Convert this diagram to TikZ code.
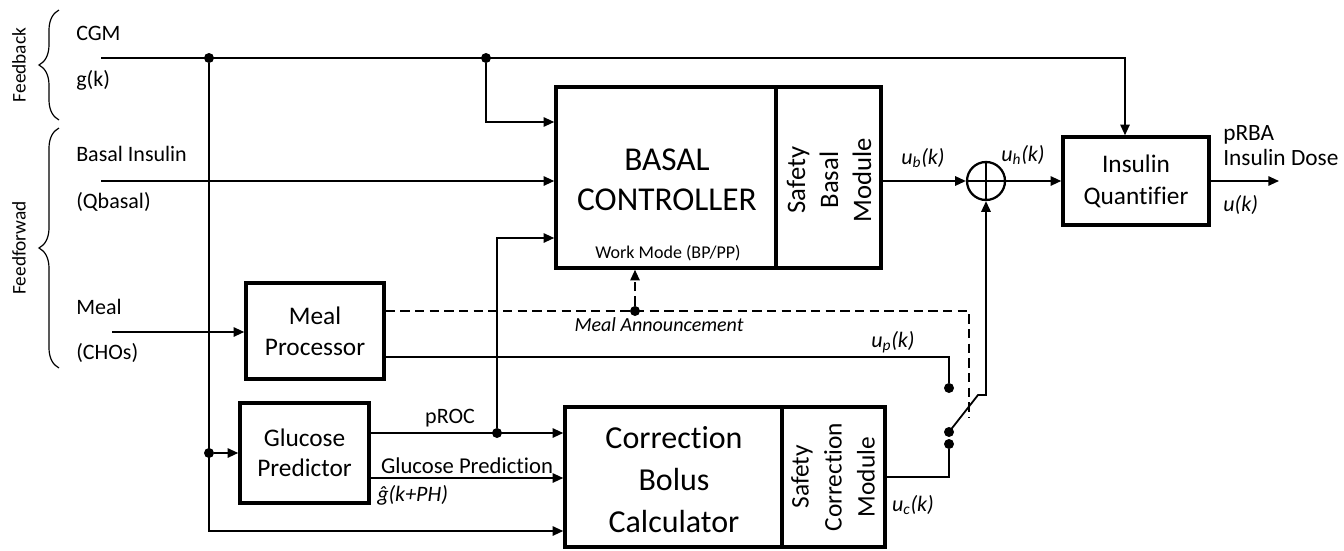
\documentclass[tikz,border=0pt]{standalone}
\usepackage{fontspec}
\setmainfont{Carlito}[Ligatures={NoCommon,NoRare,NoContextual}]
\usetikzlibrary{arrows.meta,decorations.pathreplacing,calc}
\begin{document}
\begin{tikzpicture}[x=0.75pt,y=-0.75pt,
  ln/.style={line width=1.35pt},
  arr/.style={ln,-{Triangle[length=8pt,width=7pt]}},
  box/.style={draw,line width=2.6pt,rectangle,inner sep=0pt,align=center},
  dot/.style={circle,fill,inner sep=0pt,minimum size=7.5pt},
  lbl/.style={inner sep=0pt,font=\fontsize{16.5}{19}\selectfont},
  ilbl/.style={inner sep=0pt,font=\fontsize{16.5}{19}\selectfont\itshape},
  brc/.style={line width=0.9pt,decorate,decoration={brace,amplitude=15pt}}
]
\useasboundingbox (0,0) rectangle (1344,550);

% braces and group labels
\draw[brc] (59,120) -- (59,10);
\draw[brc] (59,368) -- (59,128);
\node[rotate=90,inner sep=0pt,font=\fontsize{14.5}{17}\selectfont] (fb) at (19,65) {Feedback};
\node[rotate=90,inner sep=0pt,font=\fontsize{14.5}{17}\selectfont] (ff) at (19,248) {Feedforwad};

% input labels
\node[lbl,anchor=west] (cgm) at (76,33) {CGM};
\node[lbl,anchor=west] (gk) at (76,80) {g(k)};
\node[lbl,anchor=west] (bil) at (76,154) {Basal Insulin};
\node[lbl,anchor=west] (qb) at (76,202) {(Qbasal)};
\node[lbl,anchor=west] (mealt) at (76,307) {Meal};
\node[lbl,anchor=west] (cho) at (76,353) {(CHOs)};

% blocks
\node[box,minimum width={220*0.75pt},minimum height={181*0.75pt}] (basal) at (666,177.5) {};
\node[align=center,font=\fontsize{25}{30}\selectfont] (basaltxt) at (667,180) {BASAL\\CONTROLLER};
\node[inner sep=0pt,font=\fontsize{13.5}{16}\selectfont] (wm) at (668,253) {Work Mode (BP/PP)};
\node[box,minimum width={105*0.75pt},minimum height={181*0.75pt}] (sbm) at (828.5,177.5) {};
\node[rotate=90,align=center,font=\fontsize{20}{24.75}\selectfont] (sbmtxt) at (829,180) {Safety\\Basal\\Module};

\node[box,minimum width={146*0.75pt},minimum height={88*0.75pt},font=\fontsize{19}{24}\selectfont] (iq) at (1136,181) {Insulin\\Quantifier};

\node[box,minimum width={138*0.75pt},minimum height={96*0.75pt},font=\fontsize{19}{23.25}\selectfont] (meal) at (315,331) {Meal\\Processor};

\node[box,minimum width={129*0.75pt},minimum height={100*0.75pt},font=\fontsize{19}{22.5}\selectfont] (gp) at (304.5,453) {Glucose\\Predictor};

\node[box,minimum width={217*0.75pt},minimum height={140*0.75pt}] (cbc) at (673.5,477) {};
\node[align=center,font=\fontsize{24}{31.5}\selectfont] (cbctxt) at (674,480) {Correction\\Bolus\\Calculator};
\node[box,minimum width={103*0.75pt},minimum height={140*0.75pt}] (scm) at (833.5,477) {};
\node[rotate=90,align=center,font=\fontsize{19}{24.75}\selectfont] (scmtxt) at (833,477) {Safety\\Correction\\Module};

\node[circle,draw,line width=1.7pt,minimum size=28.5pt,inner sep=0pt] (sum) at (986,181) {};
\draw[line width=1.7pt] (sum.north) -- (sum.south) (sum.west) -- (sum.east);

% CGM feedback
\coordinate (cgm0) at (101,58);
\node[dot] (j1) at (209,58) {};
\node[dot] (j2) at (486,58) {};
\draw[arr] (cgm0) -| ($(iq.north)+(-11,0)$);
\draw[arr] (j2) |- (basal.west |- 0,122);

% basal insulin
\coordinate (bi0) at (101,181);
\draw[arr] (bi0) -- (bi0 -| basal.west);

% glucose path
\draw[arr] (j1) |- (cbc.west |- 0,531);
\node[dot] (jg) at (209,453) {};
\draw[arr] (jg) -- (gp.west |- jg);
\node[dot] (jp) at (497,433) {};
\draw[arr] (gp.east |- jp) -- (cbc.west |- jp);
\draw[arr] (jp) |- (basal.west |- 0,238);
\draw[arr] (gp.east |- 0,478) -- (cbc.west |- 0,478);
\node[lbl] (proc) at (450,418) {pROC};
\node[lbl,font=\fontsize{17}{20}\selectfont] (gpl) at (467,466) {Glucose Prediction};
\node[ilbl,anchor=west] (ghat) at (377,495) {ĝ(k+PH)};

% meal
\coordinate (m0) at (112,332);
\draw[arr] (m0) -- (m0 -| meal.west);
\draw[ln,dashed,dash pattern=on 7pt off 4pt] (meal.east |- 0,311) -| (969,418);
\node[dot] (ma) at (635,311) {};
\draw[arr,dashed,dash pattern=on 7pt off 4pt] (ma) -- (ma |- basal.south);
\node[ilbl,font=\fontsize{15}{18}\selectfont\itshape] (mat) at (659,325) {Meal Announcement};

% switch
\node[dot] (sw1) at (949,388) {};
\node[dot] (sw2) at (949,432) {};
\node[dot] (sw3) at (949,444) {};
\draw[ln] (meal.east |- 0,357) -| (sw1);
\draw[ln] (scm.east |- 0,477) -| (sw3);
\draw[arr] (sw2.center) -- (978,395) -| (sum.south);
\node[ilbl] (up) at (893,342) {u\textsubscript{p}(k)};
\node[ilbl] (uc) at (913,505) {u\textsubscript{c}(k)};

% outputs
\draw[arr] (sbm.east |- sum) -- (sum.west);
\draw[arr] (sum.east) -- (iq.west |- sum);
\coordinate (uout) at (1279,181);
\draw[arr] (iq.east) -- (uout);
\node[ilbl] (ub) at (923,158) {u\textsubscript{b}(k)};
\node[ilbl] (uh) at (1023,155) {u\textsubscript{h}(k)};
\node[lbl,anchor=west,font=\fontsize{17.5}{20}\selectfont] (prba) at (1223,135) {pRBA};
\node[lbl,anchor=west,font=\fontsize{17.5}{20}\selectfont] (idose) at (1223,157) {Insulin Dose};
\node[ilbl,anchor=west] (uk) at (1223,205) {u(k)};
\end{tikzpicture}
\end{document}
